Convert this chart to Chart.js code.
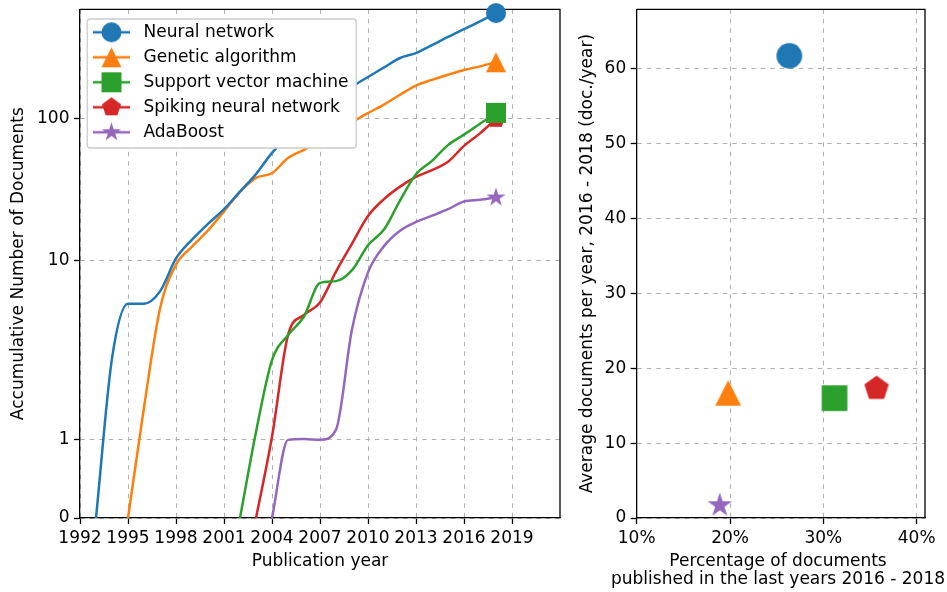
<!DOCTYPE html>
<html>
<head>
<meta charset="utf-8">
<title>Accumulated documents per method</title>
<script src="https://cdn.jsdelivr.net/npm/chart.js@4.4.1/dist/chart.umd.min.js"></script>
<style>
  html, body { margin: 0; padding: 0; background: #fff; }
  #wrap { position: relative; width: 947px; height: 592px; overflow: hidden; background: #fff; }
  canvas { position: absolute; top: 0; }
  #growth { left: 0; }
  #recent { left: 575px; }
</style>
</head>
<body>
<div id="wrap">
  <canvas id="growth" width="575" height="592"></canvas>
  <canvas id="recent" width="406" height="592"></canvas>
</div>
<script>
// ---------- data ----------
const methods = ['Neural network', 'Genetic algorithm', 'Support vector machine', 'Spiking neural network', 'AdaBoost'];

const years = [1993, 1994, 1995, 1996, 1997, 1998, 1999, 2000, 2001, 2002, 2003, 2004, 2005,
               2006, 2007, 2008, 2009, 2010, 2011, 2012, 2013, 2014, 2015, 2016, 2017, 2018];

// accumulated number of documents per year (null = no documents yet)
const neuralNetwork = [0, 2.06, 5.0, 5.0, 6.1, 10.4, 14.1, 18.2, 23.1, 30.7, 40.8, 57.6, 74.6,
                       93.7, 115.6, 140.4, 168, 197, 230, 268, 290, 330, 377, 428, 486, 555];
const geneticAlgorithm = [null, null, 0, 1.4, 4.6, 9.4, 12.6, 16.4, 22.3, 30.6, 38.4, 41.4, 53,
                          60.5, 70.3, 81.8, 95, 109.8, 126, 147.6, 171.4, 188, 204.4, 220.8, 234, 250];
const supportVectorMachine = [null, null, null, null, null, null, null, null, null, 0, 1.09, 2.0, 3.0,
                              4.06, 7.0, 7.2, 8.6, 12.9, 16.6, 26.6, 40.7, 50.6, 65.3, 77.4, 92.2, 110];
const spikingNeuralNetwork = [null, null, null, null, null, null, null, null, null, null, 0, 1.03, 3.0,
                              4.17, 5.1, 8.4, 13.2, 20.7, 27.2, 33.3, 39, 43.5, 49.8, 64.5, 79, 100];
const adaBoost = [null, null, null, null, null, null, null, null, null, null, null, 0, 0.99,
                  1.0, 0.99, 1.12, 3.3, 8.3, 12.7, 16.3, 18.8, 20.8, 23.1, 26.2, 26.9, 27.9];

const yearTicks = [1992, 1995, 1998, 2001, 2004, 2007, 2010, 2013, 2016, 2019];
const docTicks = [0, 1, 10, 100];

// share of documents published 2016 - 2018 (%) and average documents per year in that period
const recentShare = [26.35, 19.8, 31.2, 35.7, 18.9];
const recentRate = [61.7, 16.7, 16.0, 17.3, 1.7];
const shareTicks = [10, 20, 30, 40];
const rateTicks = [0, 10, 20, 30, 40, 50, 60];

// ---------- styles ----------
const colors = ['#1f77b4', '#ff7f0e', '#2ca02c', '#d62728', '#9467bd'];
const shapes = ['circle', 'triangle', 'square', 'pentagon', 'star'];
const seriesValues = [neuralNetwork, geneticAlgorithm, supportVectorMachine, spikingNeuralNetwork, adaBoost];

const FONT = 'DejaVu Sans';
Chart.defaults.font.family = FONT;
Chart.defaults.font.size = 17;
Chart.defaults.color = '#000';

// ---------- symmetric log scale (linear below 2, logarithmic above) ----------
const LINTHRESH = 2;
const LIN_ADJ = 1 / (1 - 1 / 10);
function symlog(v) {
  const a = Math.abs(v);
  const t = a <= LINTHRESH ? a * LIN_ADJ : LINTHRESH * (LIN_ADJ + Math.log10(a / LINTHRESH));
  return v < 0 ? -t : t;
}
function symlogInverse(t) {
  const a = Math.abs(t);
  const v = a <= LINTHRESH * LIN_ADJ ? a / LIN_ADJ : LINTHRESH * Math.pow(10, a / LINTHRESH - LIN_ADJ);
  return t < 0 ? -v : v;
}
class SymLogScale extends Chart.LinearScale {
  static id = 'symlog';
  static defaults = {};
  getPixelForValue(value) {
    if (value === null || value === undefined || isNaN(value)) return NaN;
    const t0 = symlog(this.min), t1 = symlog(this.max);
    return this.getPixelForDecimal((symlog(value) - t0) / (t1 - t0));
  }
  getValueForPixel(pixel) {
    const t0 = symlog(this.min), t1 = symlog(this.max);
    return symlogInverse(t0 + this.getDecimalForPixel(pixel) * (t1 - t0));
  }
}
Chart.register(SymLogScale);

// ---------- marker images ----------
function tracePath(g, shape, cx, cy, m) {
  const r = m / 2;
  g.beginPath();
  if (shape === 'circle') {
    g.arc(cx, cy, r, 0, Math.PI * 2);
  } else if (shape === 'triangle') {
    g.moveTo(cx, cy - r); g.lineTo(cx - r, cy + r); g.lineTo(cx + r, cy + r); g.closePath();
  } else if (shape === 'square') {
    g.rect(cx - r, cy - r, m, m);
  } else if (shape === 'pentagon') {
    for (let k = 0; k < 5; k++) {
      const a = -Math.PI / 2 + k * 2 * Math.PI / 5;
      const px = cx + r * Math.cos(a), py = cy + r * Math.sin(a);
      k ? g.lineTo(px, py) : g.moveTo(px, py);
    }
    g.closePath();
  } else if (shape === 'star') {
    for (let k = 0; k < 10; k++) {
      const a = -Math.PI / 2 + k * Math.PI / 5;
      const rr = k % 2 ? r * 0.381966 : r;
      const px = cx + rr * Math.cos(a), py = cy + rr * Math.sin(a);
      k ? g.lineTo(px, py) : g.moveTo(px, py);
    }
    g.closePath();
  }
}
function markerCanvas(shape, color, size, handle) {
  const w = Math.ceil(Math.max(size, handle || 0)) + 4;
  const h = Math.ceil(size) + 4;
  const c = document.createElement('canvas');
  c.width = w; c.height = h;
  const g = c.getContext('2d');
  const cx = w / 2, cy = h / 2;
  if (handle) {
    g.strokeStyle = color; g.lineWidth = 2.5;
    g.beginPath(); g.moveTo(cx - handle / 2, cy); g.lineTo(cx + handle / 2, cy); g.stroke();
  }
  g.fillStyle = color;
  tracePath(g, shape, cx, cy, size);
  g.fill();
  return c;
}

// ---------- shared axis styling ----------
function gridStyle() {
  return { color: '#b0b0b0', lineWidth: 1, tickLength: 6, tickColor: '#000', tickWidth: 1.3,
           tickBorderDash: [], drawTicks: true };
}
const borderStyle = { display: true, color: '#000', width: 1.3, dash: [4.5, 5] };

// tick labels may hang over the frame edges without shrinking the plot
function noEdgePadding(scale) {
  scale.paddingTop = 0; scale.paddingBottom = 0;
  scale.paddingLeft = 0; scale.paddingRight = 0;
}

const spines = {
  id: 'spines',
  beforeDatasetsDraw(chart) {
    const { ctx, chartArea: a } = chart;
    ctx.save();
    ctx.strokeStyle = '#000';
    ctx.lineWidth = 1.3;
    ctx.beginPath();
    ctx.moveTo(a.left, a.top); ctx.lineTo(a.right, a.top); ctx.lineTo(a.right, a.bottom);
    ctx.stroke();
    ctx.restore();
  }
};

const legendFrame = {
  id: 'legendFrame',
  afterDatasetsDraw(chart) {
    const lg = chart.legend;
    if (!lg || !lg.legendHitBoxes || !lg.legendHitBoxes.length) return;
    const hb = lg.legendHitBoxes;
    const x0 = hb[0].left - 0.8;
    const y0 = hb[0].top - 4.8;
    const x1 = Math.max(...hb.map(h => h.left + h.width)) + 7.7;
    const last = hb[hb.length - 1];
    const y1 = last.top + last.height + 7.2;
    const ctx = chart.ctx;
    ctx.save();
    ctx.fillStyle = '#ffffff';
    ctx.strokeStyle = '#cccccc';
    ctx.lineWidth = 1.3;
    ctx.beginPath();
    ctx.roundRect(x0, y0, x1 - x0, y1 - y0, 3);
    ctx.fill();
    ctx.stroke();
    ctx.restore();
  }
};

// ---------- accumulated documents ----------
const legendIcons = shapes.map((s, i) => markerCanvas(s, colors[i], 20, 37));
const lineMarkers = shapes.map((s, i) => markerCanvas(s, colors[i], 20));

const growthChart = new Chart(document.getElementById('growth'), {
  type: 'line',
  data: {
    datasets: methods.map((name, i) => ({
      label: name,
      data: years.map((yr, k) => ({ x: yr, y: seriesValues[i][k] })).filter(p => p.y !== null),
      borderColor: colors[i],
      backgroundColor: colors[i],
      borderWidth: 2.5,
      cubicInterpolationMode: 'monotone',
      pointStyle: lineMarkers[i],
      pointRadius: (ctx) => ctx.dataIndex === ctx.dataset.data.length - 1 ? 10 : 0,
      pointHoverRadius: 0,
      clip: false,
      fill: false
    }))
  },
  options: {
    responsive: false,
    animation: false,
    events: [],
    devicePixelRatio: 1,
    layout: { autoPadding: false, padding: { left: 0, right: 15, top: 9.3, bottom: 0 } },
    scales: {
      x: {
        type: 'linear', min: 1992, max: 2022, bounds: 'data',
        grid: gridStyle(), border: borderStyle,
        afterBuildTicks: (scale) => { scale.ticks = yearTicks.map(v => ({ value: v })); },
        afterFit: (scale) => { scale.height = 74; noEdgePadding(scale); },
        ticks: { autoSkip: false, maxRotation: 0, padding: 4, callback: (v) => String(v) },
        title: { display: true, text: 'Publication year', padding: { top: 0, bottom: 20.3 } }
      },
      y: {
        type: 'symlog', min: 0, max: 590, bounds: 'data',
        grid: gridStyle(), border: borderStyle,
        afterBuildTicks: (scale) => { scale.ticks = docTicks.map(v => ({ value: v })); },
        afterFit: (scale) => { scale.width = 80; noEdgePadding(scale); },
        ticks: { autoSkip: false, padding: 4.5, callback: (v) => String(v) },
        title: { display: true, text: 'Accumulative Number of Documents', padding: { top: 8.8, bottom: 0 } }
      }
    },
    plugins: {
      tooltip: { enabled: false },
      legend: {
        position: 'chartArea',
        align: 'start',
        title: { display: true, text: '', font: { size: 1, lineHeight: 1 }, padding: { top: 0, bottom: 14.8 } },
        labels: {
          usePointStyle: true,
          pointStyleWidth: 47,
          padding: 8,
          color: '#000',
          font: { family: FONT, size: 17 },
          generateLabels: (chart) => chart.data.datasets.map((ds, i) => ({
            text: ds.label,
            fillStyle: colors[i],
            strokeStyle: colors[i],
            lineWidth: 0,
            pointStyle: legendIcons[i],
            hidden: false,
            datasetIndex: i
          }))
        }
      }
    }
  },
  plugins: [spines, legendFrame]
});
// the legend sits on top of the curves
growthChart.legend._layers = function () { return [{ z: 1, draw: (area) => this.draw(area) }]; };
growthChart.update();

// ---------- recent activity ----------
const scatterMarkers = shapes.map((s, i) => markerCanvas(s, colors[i], 25.7));

new Chart(document.getElementById('recent'), {
  type: 'scatter',
  data: {
    datasets: methods.map((name, i) => ({
      label: name,
      data: [{ x: recentShare[i], y: recentRate[i] }],
      pointStyle: scatterMarkers[i],
      pointRadius: 13,
      pointHoverRadius: 13,
      backgroundColor: colors[i],
      borderColor: colors[i],
      clip: false
    }))
  },
  options: {
    responsive: false,
    animation: false,
    events: [],
    devicePixelRatio: 1,
    layout: { autoPadding: false, padding: { left: 0, right: 0, top: 9.3, bottom: 0 } },
    scales: {
      x: {
        type: 'linear', min: 10, max: 40.89, bounds: 'data',
        grid: gridStyle(), border: borderStyle,
        afterBuildTicks: (scale) => { scale.ticks = shareTicks.map(v => ({ value: v })); },
        afterFit: (scale) => { scale.height = 35.3; noEdgePadding(scale); },
        ticks: { autoSkip: false, maxRotation: 0, padding: 4, callback: (v) => v + '%' }
      },
      y: {
        type: 'linear', min: 0, max: 67.9, bounds: 'data',
        grid: gridStyle(), border: borderStyle,
        afterBuildTicks: (scale) => { scale.ticks = rateTicks.map(v => ({ value: v })); },
        afterFit: (scale) => { scale.width = 61.7; noEdgePadding(scale); },
        ticks: { autoSkip: false, padding: 4.5, callback: (v) => String(v) },
        title: { display: true, text: 'Average documents per year, 2016 - 2018 (doc./year)', padding: { top: 2.1, bottom: 0 } }
      },
      // empty margin on the right so the bottom caption centres under the plot
      margin: {
        type: 'linear', axis: 'y', position: 'right', display: true,
        grid: { display: false }, border: { display: false },
        ticks: { display: false },
        afterFit: (scale) => { scale.width = 56; noEdgePadding(scale); }
      }
    },
    plugins: {
      tooltip: { enabled: false },
      legend: { display: false },
      title: {
        display: true,
        position: 'bottom',
        text: ['Percentage of documents', 'published in the last years 2016 - 2018'],
        color: '#000',
        font: { family: FONT, size: 17, weight: 'normal', lineHeight: 1.02 },
        padding: { top: 0, bottom: 4 }
      }
    }
  },
  plugins: [spines]
});
</script>
</body>
</html>
